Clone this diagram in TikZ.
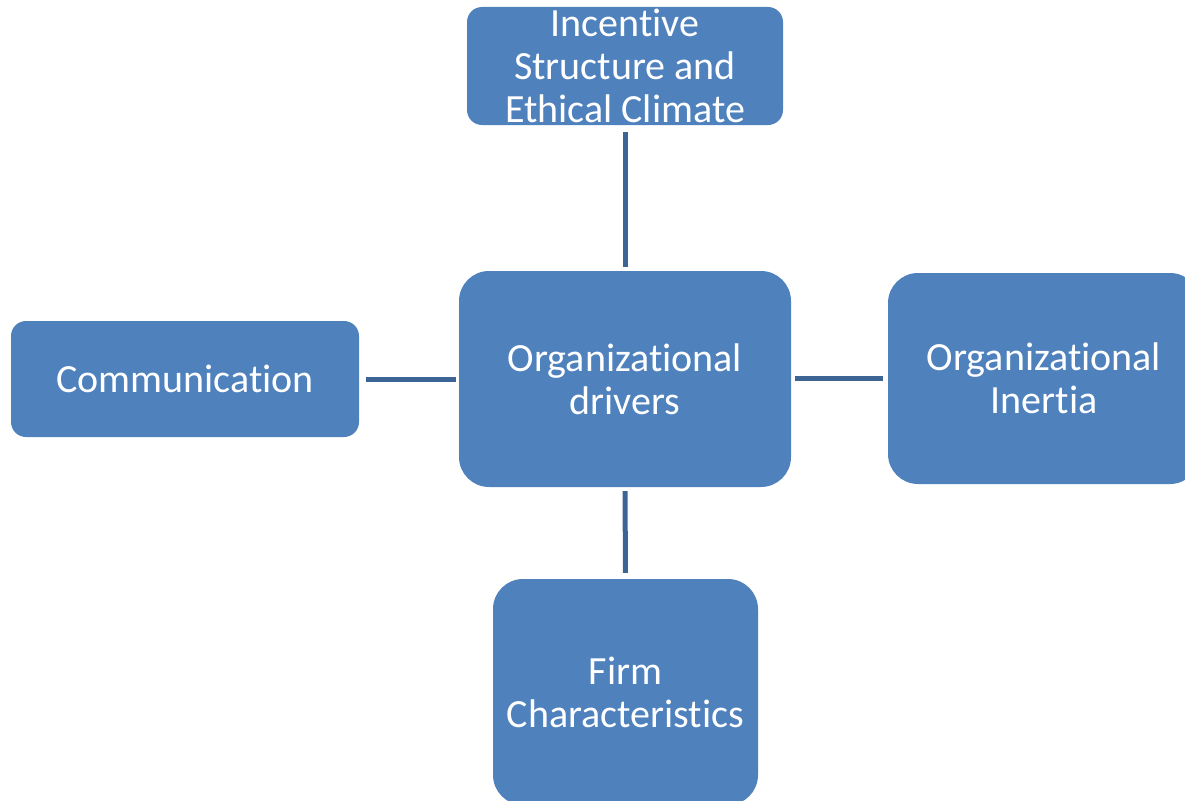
\documentclass[tikz,border=0pt]{standalone}
\usepackage{fontspec}
\setmainfont[Ligatures={NoCommon}]{Carlito}
\definecolor{boxfill}{HTML}{4F81BD}
\definecolor{linecol}{HTML}{3C6494}
\begin{document}
\begin{tikzpicture}[x=1pt,y=-1pt,
  box/.style={draw=none,fill=boxfill,text=white,align=center,inner sep=0pt,
    font=\fontsize{40}{43}\selectfont},
  conn/.style={draw=linecol,line width=5pt}]
\useasboundingbox (0,0) rectangle (1185,800);
\clip (0,0) rectangle (1185,800);
\node[box,rounded corners=15pt,minimum width=316pt,minimum height=118pt] (top) at (625,66) {Incentive\\Structure and\\Ethical Climate};
\node[box,rounded corners=30pt,minimum width=332pt,minimum height=216pt] (mid) at (625,379) {Organizational\\drivers};
\node[box,rounded corners=30pt,minimum width=312pt,minimum height=211pt] (right) at (1044,378.5) {Organizational\\Inertia};
\node[box,rounded corners=30pt,minimum width=265pt,minimum height=226pt] (bot) at (625.5,692) {Firm\\Characteristics};
\node[box,rounded corners=15pt,minimum width=348pt,minimum height=116pt] (left) at (185,379) {Communication};
\draw[conn,shorten <=7pt,shorten >=4pt] (top.south) -- (mid.north);
\draw[conn,shorten <=4pt,shorten >=6pt] (mid.south) -- (bot.north);
\draw[conn,shorten <=7pt,shorten >=3pt] (left.east) -- (left.east -| mid.west);
\draw[conn,shorten <=4pt,shorten >=5pt] (mid.east |- right.west) -- (right.west);
\end{tikzpicture}
\end{document}
